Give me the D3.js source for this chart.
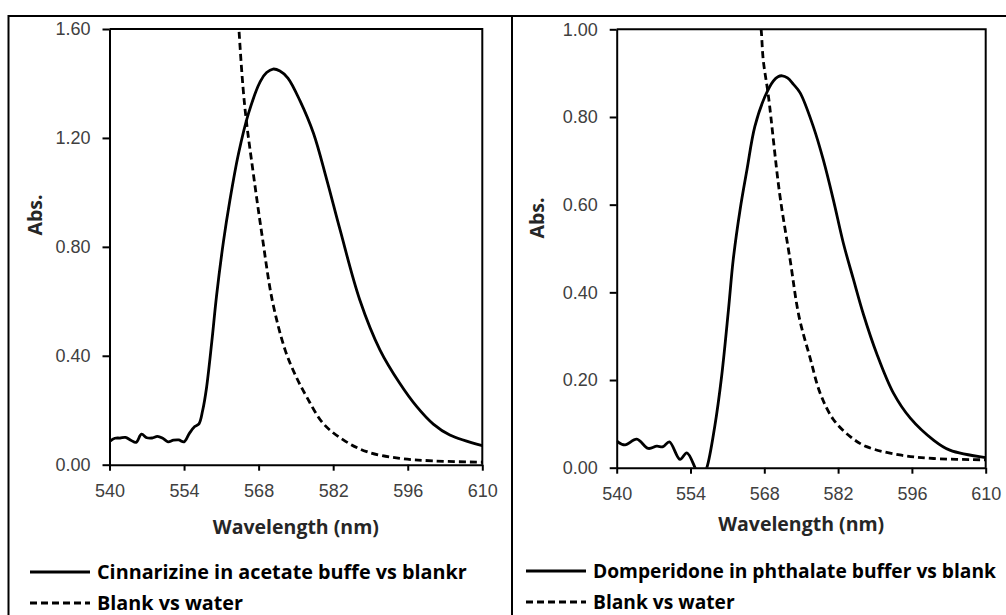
<!DOCTYPE html>
<html>
<head>
<meta charset="utf-8">
<script src="https://cdn.jsdelivr.net/npm/d3@7"></script>
<style>
  body { margin: 0; background: #fff; }
  svg { display: block; font-family: Lato, "Open Sans", sans-serif; }
  .bold { font-family: "Open Sans", Lato, sans-serif; font-weight: bold; }
</style>
</head>
<body>
<div id="container"></div>
<script>
let w = 1006;
let h = 615;

// DATA
let xTicks = [540, 554, 568, 582, 596, 610];
let yTicksLeft = [0, 0.4, 0.8, 1.2, 1.6];
let yTicksRight = [0, 0.2, 0.4, 0.6, 0.8, 1.0];

let cinnWl  = [540, 541, 542, 543, 544, 545, 546, 547, 548, 549, 550, 551, 552, 553, 554, 555, 556, 556.8, 557.5, 558.2, 559.2, 560.1, 561.4, 562.6, 564.2, 566.1, 568.3, 569.5, 570.7, 572.0, 573.5, 575.8, 578.3, 580.8, 583.3, 587.0, 590.8, 594.5, 597.7, 600.8, 603.9, 610];
let cinnAbs = [0.085, 0.097, 0.098, 0.100, 0.090, 0.082, 0.112, 0.099, 0.098, 0.104, 0.097, 0.084, 0.090, 0.091, 0.084, 0.115, 0.140, 0.150, 0.200, 0.280, 0.450, 0.620, 0.820, 0.970, 1.140, 1.290, 1.407, 1.440, 1.453, 1.446, 1.420, 1.335, 1.217, 1.046, 0.862, 0.605, 0.421, 0.299, 0.213, 0.149, 0.109, 0.070];

let blankLeftWl  = [563.9, 564.3, 565.4, 567.0, 568.7, 570.6, 573.0, 575.0, 577.0, 580.1, 583.9, 588.3, 594.5, 600.8, 610];
let blankLeftAbs = [1.75, 1.60, 1.315, 1.070, 0.835, 0.600, 0.420, 0.325, 0.250, 0.152, 0.091, 0.048, 0.023, 0.014, 0.009];

let dompWl  = [540, 540.2, 541.6, 543.8, 546.0, 547.6, 548.8, 550.0, 552.0, 553.3, 554.9, 555.6, 556.3, 557.1, 558.6, 559.9, 561.2, 562.1, 563.4, 564.7, 566.2, 568.1, 569.7, 570.6, 571.4, 572.4, 573.5, 574.8, 577.3, 579.2, 581.1, 583.0, 584.9, 586.8, 589.3, 592.5, 595.7, 600.1, 603.2, 610];
let dompAbs = [0.062, 0.059, 0.052, 0.065, 0.044, 0.049, 0.048, 0.059, 0.019, 0.034, -0.001, -0.02, -0.02, 0.0, 0.094, 0.208, 0.360, 0.474, 0.588, 0.679, 0.778, 0.846, 0.882, 0.892, 0.894, 0.889, 0.875, 0.855, 0.778, 0.702, 0.611, 0.512, 0.430, 0.350, 0.261, 0.170, 0.113, 0.063, 0.040, 0.023];

let blankRightWl  = [566.9, 567.4, 567.8, 568.8, 570.9, 572.9, 574.6, 576.7, 578.6, 581.1, 584.3, 587.4, 593.7, 600.1, 610];
let blankRightAbs = [1.05, 1.00, 0.930, 0.846, 0.626, 0.474, 0.344, 0.250, 0.170, 0.110, 0.071, 0.048, 0.029, 0.021, 0.018];

let legendLeft  = ["Cinnarizine in acetate buffe vs blankr", "Blank vs water"];
let legendRight = ["Domperidone in phthalate buffer vs blank", "Blank vs water"];

let panels = [
  {id: "L", x0: 109.5, x1: 482.3, y0: 29, y1: 464.7, yMax: 1.6, yTicks: yTicksLeft,
   solid: [cinnWl, cinnAbs], dashed: [blankLeftWl, blankLeftAbs], legend: legendLeft,
   absX: 35, absY: 215, wlY: 534, legX: 30, legY: 572, legFont: 19.8},
  {id: "R", x0: 616.7, x1: 985.7, y0: 29.3, y1: 467.7, yMax: 1.0, yTicks: yTicksRight,
   solid: [dompWl, dompAbs], dashed: [blankRightWl, blankRightAbs], legend: legendRight,
   absX: 537, absY: 218, wlY: 531, legX: 526, legY: 571, legFont: 19.2}
];

let viz = d3.select("#container").append("svg")
    .attr("width", w)
    .attr("height", h);

// outer table frame
viz.append("line").attr("x1", 8).attr("x2", w).attr("y1", 16).attr("y2", 16)
  .attr("stroke", "#000").attr("stroke-width", 2);
viz.append("line").attr("x1", 8.5).attr("x2", 8.5).attr("y1", 15).attr("y2", h)
  .attr("stroke", "#000").attr("stroke-width", 2);
viz.append("line").attr("x1", 512).attr("x2", 512).attr("y1", 15).attr("y2", h)
  .attr("stroke", "#000").attr("stroke-width", 2);

panels.forEach(p => {
  let xScale = d3.scaleLinear().domain([540, 610]).range([p.x0, p.x1]);
  let yScale = d3.scaleLinear().domain([0, p.yMax]).range([p.y1, p.y0]);
  let g = viz.append("g");

  g.append("clipPath").attr("id", "clip" + p.id).append("rect")
    .attr("x", p.x0).attr("y", p.y0).attr("width", p.x1 - p.x0).attr("height", p.y1 - p.y0);

  // plot box (top and right)
  g.append("path")
    .attr("d", `M${p.x0},${p.y0}H${p.x1}V${p.y1}`)
    .attr("fill", "none").attr("stroke", "#000").attr("stroke-width", 2);

  let line = d3.line()
    .x(d => xScale(d[0]))
    .y(d => yScale(d[1]))
    .curve(d3.curveCatmullRom.alpha(0.5));

  let solidPts = p.solid[0].map((x, i) => [x, p.solid[1][i]]);
  let dashedPts = p.dashed[0].map((x, i) => [x, p.dashed[1][i]]);

  g.append("path").datum(dashedPts)
    .attr("clip-path", `url(#clip${p.id})`)
    .attr("d", line).attr("fill", "none").attr("stroke", "#000")
    .attr("stroke-width", 2.8).attr("stroke-dasharray", "7,4");

  g.append("path").datum(solidPts)
    .attr("clip-path", `url(#clip${p.id})`)
    .attr("d", line).attr("fill", "none").attr("stroke", "#000")
    .attr("stroke-width", 2.8);

  // axes
  let yAxis = g.append("g").attr("transform", `translate(${p.x0},0)`)
    .call(d3.axisLeft(yScale).tickValues(p.yTicks).tickFormat(d3.format(".2f")).tickSize(7).tickPadding(12).tickSizeOuter(0));
  let xAxis = g.append("g").attr("transform", `translate(0,${p.y1})`)
    .call(d3.axisBottom(xScale).tickValues(xTicks).tickSize(6).tickPadding(14).tickSizeOuter(0));
  [yAxis, xAxis].forEach(a => {
    a.select(".domain").attr("stroke", "#000").attr("stroke-width", 2);
    a.selectAll(".tick line").attr("stroke", "#000").attr("stroke-width", 2);
    a.selectAll(".tick text").attr("fill", "#404040").style("font-size", "18px");
  });

  // axis titles
  g.append("text").attr("class", "bold").attr("x", (p.x0 + p.x1) / 2).attr("y", p.wlY)
    .attr("text-anchor", "middle").style("font-size", "19.5px")
    .attr("fill", "#262626").text("Wavelength (nm)");
  g.append("text").attr("class", "bold").attr("transform", `translate(${p.absX + 7},${p.absY}) rotate(-90)`)
    .attr("text-anchor", "middle").style("font-size", "19.5px")
    .attr("fill", "#262626").text("Abs.");

  // legend
  let leg = g.append("g");
  leg.append("line").attr("x1", p.legX).attr("x2", p.legX + 60).attr("y1", p.legY).attr("y2", p.legY)
    .attr("stroke", "#000").attr("stroke-width", 2.8);
  leg.append("line").attr("x1", p.legX).attr("x2", p.legX + 60).attr("y1", p.legY + 31).attr("y2", p.legY + 31)
    .attr("stroke", "#000").attr("stroke-width", 2.8).attr("stroke-dasharray", "7,4");
  p.legend.forEach((t, i) => {
    leg.append("text").attr("class", "bold").attr("x", p.legX + 67).attr("y", p.legY + i * 31 + 6.5)
      .style("font-size", p.legFont + "px").attr("fill", "#000").text(t);
  });
});
</script>
</body>
</html>
